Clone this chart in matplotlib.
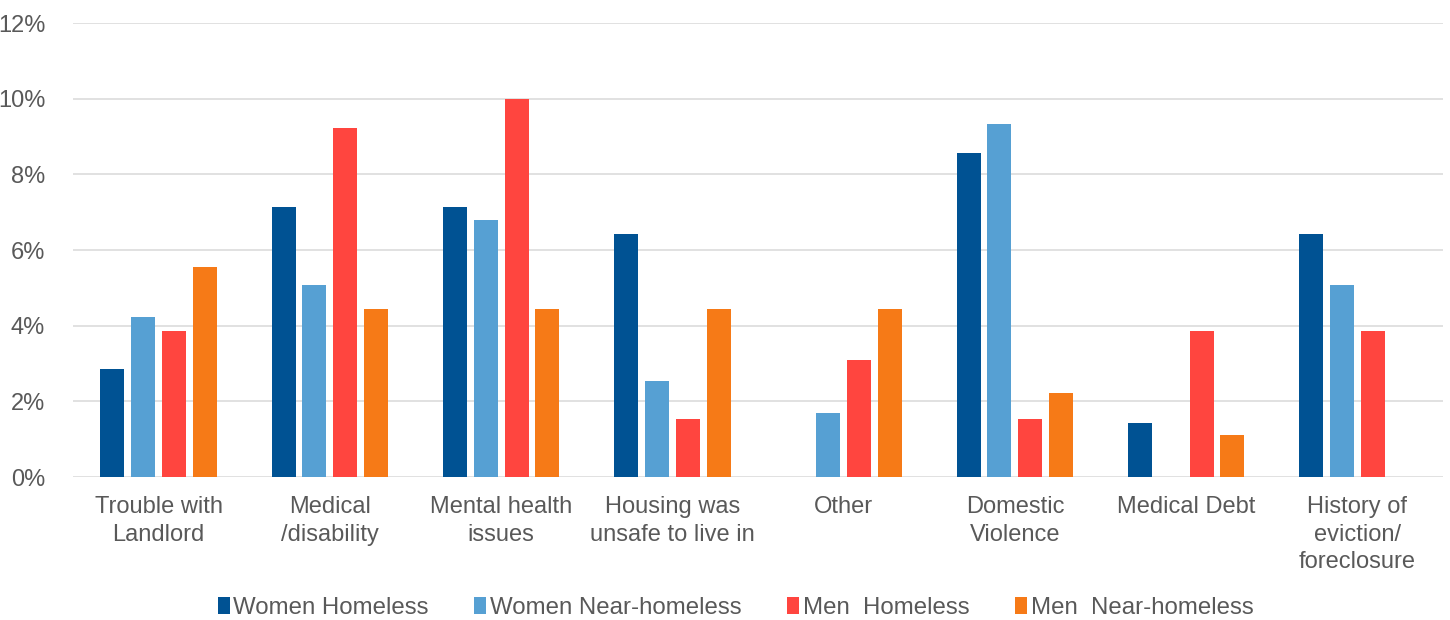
import numpy as np
import matplotlib
matplotlib.use("Agg")
import matplotlib.pyplot as plt
from matplotlib.ticker import FuncFormatter

plt.rcParams['font.family'] = ['Liberation Sans', 'DejaVu Sans']

categories = ["Trouble with\nLandlord", "Medical\n/disability", "Mental health\nissues",
              "Housing was\nunsafe to live in", "Other", "Domestic\nViolence",
              "Medical Debt", "History of\neviction/\nforeclosure"]
series_names = ["Women Homeless", "Women Near-homeless", "Men  Homeless", "Men  Near-homeless"]
women_homeless = [2.86, 7.14, 7.14, 6.43, 0.0, 8.57, 1.43, 6.43]
women_near = [4.24, 5.08, 6.78, 2.54, 1.69, 9.32, 0.0, 5.08]
men_homeless = [3.85, 9.23, 10.0, 1.54, 3.08, 1.54, 3.85, 3.85]
men_near = [5.56, 4.44, 4.44, 4.44, 4.44, 2.22, 1.11, 0.0]
colors = ["#005293", "#56A0D3", "#FF453F", "#F67A17"]

fig = plt.figure(figsize=(14.5, 6.2), dpi=100)
ax = fig.add_axes([73 / 1450, 1 - 477 / 620, 1370 / 1450, 454 / 620])

x = np.arange(len(categories))
w = 0.14
step = 0.18
for i, (vals, name) in enumerate(zip([women_homeless, women_near, men_homeless, men_near], series_names)):
    ax.bar(x + (i - 1.5) * step, vals, width=w, color=colors[i], label=name, zorder=3)

ax.set_xlim(-0.5, len(categories) - 0.5)
ax.set_ylim(0, 12)
ax.set_yticks(range(0, 13, 2))
ax.yaxis.set_major_formatter(FuncFormatter(lambda v, p: f"{int(v)}%"))
ax.set_xticks(x)
ax.set_xticklabels(categories, linespacing=1.32)
ax.grid(axis='y', color='#D9D9D9', linewidth=1.1, zorder=0)
for s in ax.spines.values():
    s.set_visible(False)
ax.tick_params(axis='both', length=0, labelsize=17, colors='#595959')
ax.tick_params(axis='x', pad=14)
ax.tick_params(axis='y', pad=20)

leg = ax.legend(loc='center', bbox_to_anchor=(0.4836, -0.288), ncol=4, frameon=False,
                fontsize=17.3, handlelength=0.5, handleheight=0.7, handletextpad=0.15,
                columnspacing=1.9, labelcolor='#595959', borderpad=0, borderaxespad=0)

fig.savefig("out.png", dpi=100)
